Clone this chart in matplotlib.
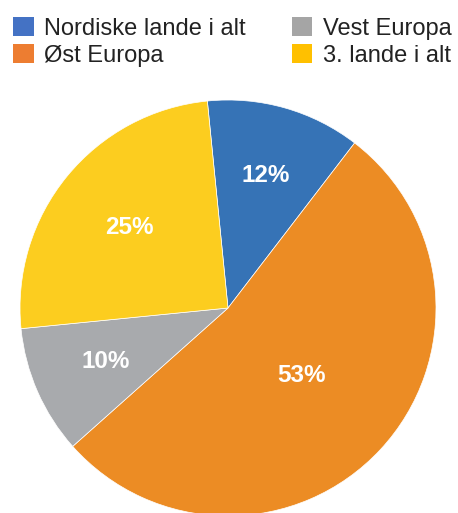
import matplotlib
matplotlib.use("Agg")
import numpy as np
import matplotlib.pyplot as plt
from matplotlib.patches import Patch

categories = ["Nordiske lande i alt", "Øst Europa", "Vest Europa", "3. lande i alt"]
values = [12, 53, 10, 25]
pie_colors = ["#3673B6", "#EC8C24", "#A8AAAD", "#FCCD1F"]
legend_colors = ["#4472C4", "#ED7D31", "#A5A5A5", "#FFC000"]
label_radius = [0.66, 0.48, 0.64, 0.61]

plt.rcParams['font.family'] = ['Liberation Sans', 'DejaVu Sans']

W, H = 458, 513
fig = plt.figure(figsize=(W / 100, H / 100), dpi=100)
fig.patch.set_facecolor("white")

cx, cy, r = 228, 308, 208
ax = fig.add_axes([(cx - r) / W, (H - cy - r) / H, 2 * r / W, 2 * r / H])
wedges, texts, autotexts = ax.pie(
    values, colors=pie_colors, startangle=95.7, counterclock=False,
    autopct=lambda p: f"{p:.0f}%", pctdistance=0.66, radius=1,
    wedgeprops=dict(linewidth=0.5, edgecolor="white"),
    textprops=dict(color="white", fontsize=17.5, fontweight="bold"))
for w, t, lr in zip(wedges, autotexts, label_radius):
    ang = np.deg2rad((w.theta1 + w.theta2) / 2)
    t.set_position((lr * np.cos(ang), lr * np.sin(ang)))
ax.set_xlim(-1, 1)
ax.set_ylim(-1, 1)
ax.set_aspect("equal")
ax.axis("off")

handles = [Patch(facecolor=c, edgecolor="none") for c in legend_colors]
fig.legend(handles, categories, ncol=2, loc="upper left",
           bbox_to_anchor=(4 / W, 1 - 8 / H), frameon=False,
           fontsize=17, handlelength=0.85, handleheight=0.85,
           handletextpad=0.45, columnspacing=1.95, labelspacing=0.18,
           borderaxespad=0, labelcolor="#222222")

fig.savefig("out.png", dpi=100)
